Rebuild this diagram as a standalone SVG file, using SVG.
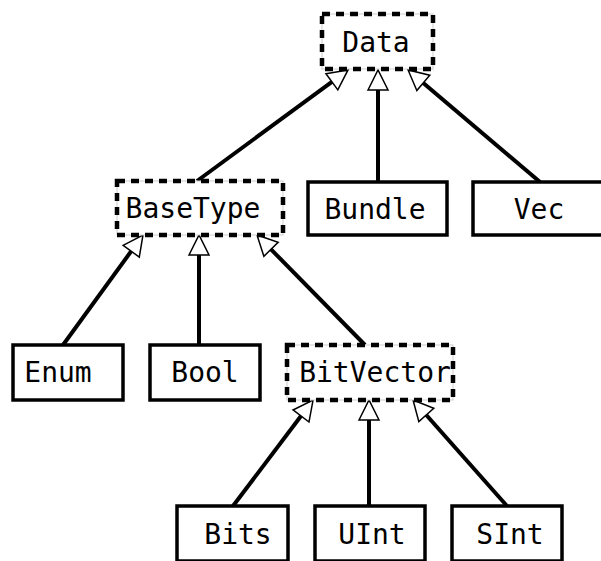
<svg xmlns="http://www.w3.org/2000/svg" width="601" height="561" viewBox="0 0 601 561">
<style>
.box{fill:#fff;stroke:#000;stroke-width:3.5}
.dbox{fill:none;stroke:#000;stroke-width:4.5;stroke-dasharray:8 6}
.dbg{fill:#fff;stroke:#ccc;stroke-width:1}
.lbl{font-family:"DejaVu Sans Mono","Liberation Mono",monospace;font-size:28px;text-anchor:middle;fill:#000}
.edge{fill:none;stroke:#000;stroke-width:4;marker-end:url(#tri)}
</style>
<defs>
<marker id="tri" viewBox="-2 -12 24 24" markerWidth="24" markerHeight="24" refX="0" refY="0" markerUnits="userSpaceOnUse" orient="auto">
<path d="M0,-10 L20,0 L0,10 Z" fill="#fff" stroke="#000" stroke-width="1.5"/>
</marker>
</defs>
<rect width="601" height="561" fill="#fff"/>
<g id="connectors">
<path class="edge" d="M197,181 L331.9,81.8"/>
<path class="edge" d="M378,182 L378,90"/>
<path class="edge" d="M540,182 L423.3,82.9"/>
<path class="edge" d="M63,345 L131.2,251.2"/>
<path class="edge" d="M199,345 L199,255"/>
<path class="edge" d="M365,345 L271,249.3"/>
<path class="edge" d="M233,506 L301,416"/>
<path class="edge" d="M369,506 L369,420"/>
<path class="edge" d="M507,506 L426.3,415"/>
</g>
<g id="Data">
<rect class="dbg" x="322" y="14" width="111" height="55"/>
<rect class="dbox" x="322" y="14" width="111" height="55"/>
<text class="lbl" x="376" y="52">Data</text>
</g>
<g id="BaseType">
<rect class="dbg" x="117" y="181" width="166" height="54"/>
<rect class="dbox" x="117" y="181" width="166" height="54"/>
<text class="lbl" x="193" y="218">BaseType</text>
</g>
<g id="Bundle">
<rect class="box" x="308" y="182" width="139" height="53"/>
<text class="lbl" x="375" y="219">Bundle</text>
</g>
<g id="Vec">
<rect class="box" x="473" y="182" width="135" height="53"/>
<text class="lbl" x="539" y="219">Vec</text>
</g>
<g id="Enum">
<rect class="box" x="13" y="345" width="110" height="55"/>
<text class="lbl" x="58" y="382">Enum</text>
</g>
<g id="Bool">
<rect class="box" x="150" y="345" width="110" height="55"/>
<text class="lbl" x="205" y="382">Bool</text>
</g>
<g id="BitVector">
<rect class="dbg" x="287" y="345" width="166" height="55"/>
<rect class="dbox" x="287" y="345" width="166" height="55"/>
<text class="lbl" x="375" y="382">BitVector</text>
</g>
<g id="Bits">
<rect class="box" x="177" y="506" width="111" height="55"/>
<text class="lbl" x="238" y="544">Bits</text>
</g>
<g id="UInt">
<rect class="box" x="315" y="506" width="110" height="55"/>
<text class="lbl" x="372" y="544">UInt</text>
</g>
<g id="SInt">
<rect class="box" x="452" y="506" width="110" height="55"/>
<text class="lbl" x="510" y="544">SInt</text>
</g>
</svg>
